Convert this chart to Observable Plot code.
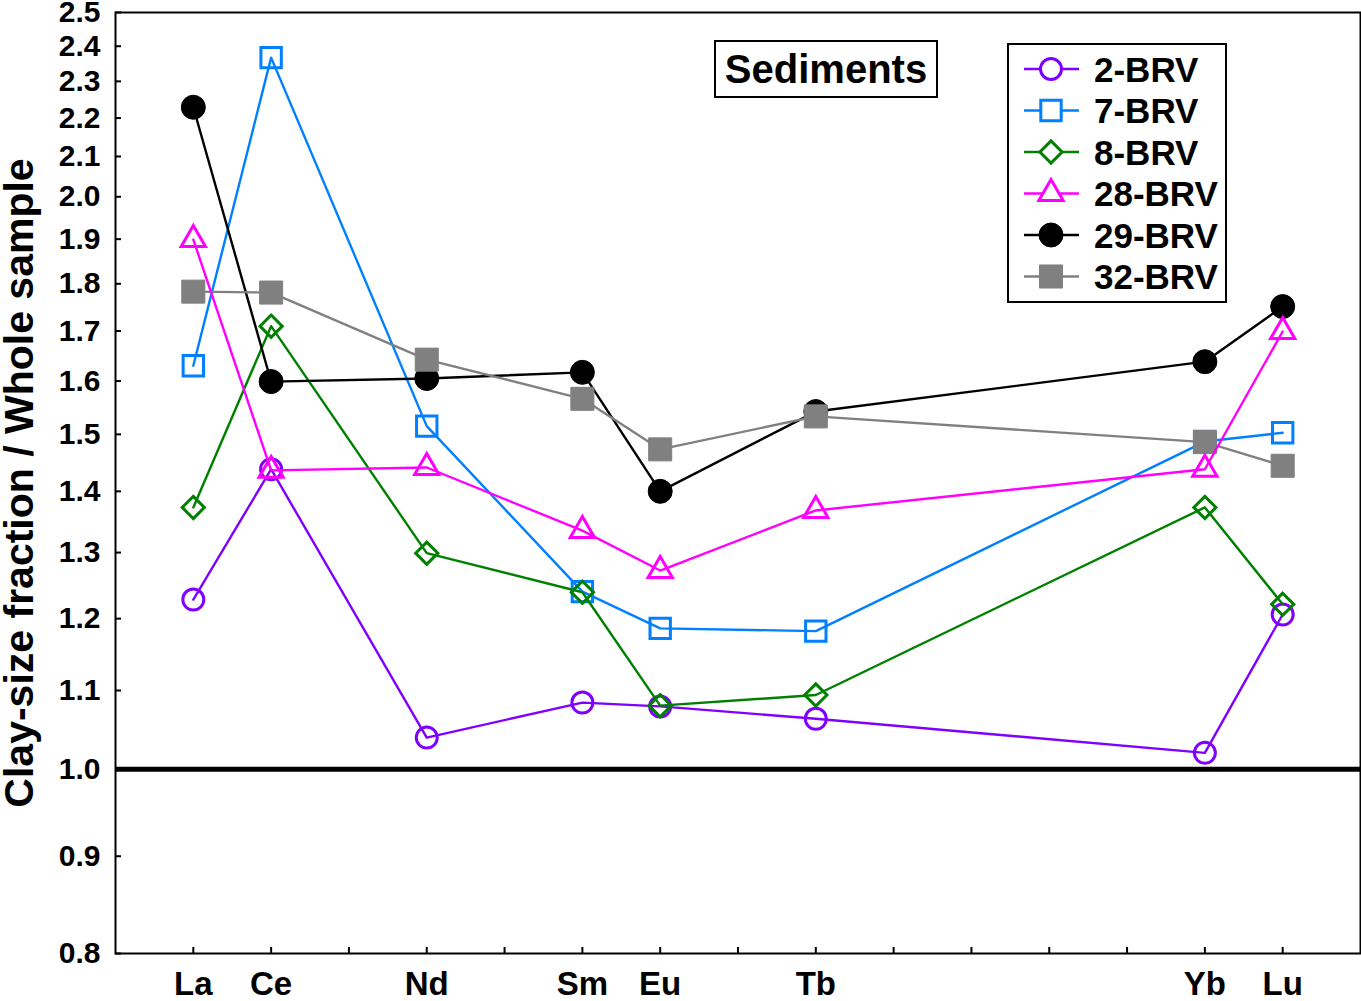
<!DOCTYPE html>
<html><head><meta charset="utf-8">
<script src="https://cdn.jsdelivr.net/npm/d3@7"></script>
<script src="https://cdn.jsdelivr.net/npm/@observablehq/plot@0.6"></script>
<style>
body{margin:0;background:#fff;font-family:"Liberation Sans",Arial,sans-serif;}
#wrap{position:relative;width:1361px;height:1001px;overflow:hidden;}
#wrap svg.plot{position:absolute;left:0;top:0;}
.tag{position:absolute;left:714px;top:40px;width:224px;height:58px;box-sizing:border-box;border:2px solid #000;background:#fff;
  font:bold 40px "Liberation Sans",Arial,sans-serif;display:flex;align-items:center;justify-content:center;color:#000;}
.legend{position:absolute;left:1007px;top:43px;}
</style></head><body><div id="wrap"></div>
<script>
// ---- data ----
const elements = ["La","Ce","Nd","Sm","Eu","Tb","Yb","Lu"];
const atomicNumbers = [57,58,60,62,63,65,70,71];
const brv2  = [1.228,1.438,1.039,1.084,1.079,1.063,1.020,1.206];
const brv7  = [1.630,2.367,1.515,1.240,1.186,1.182,1.487,1.503];
const brv8  = [1.373,1.710,1.299,1.239,1.080,1.094,1.373,1.221];
const brv28 = [1.899,1.436,1.441,1.335,1.272,1.368,1.438,1.699];
const brv29 = [2.229,1.599,1.605,1.617,1.400,1.542,1.638,1.751];
const brv32 = [1.783,1.781,1.642,1.566,1.473,1.533,1.486,1.444];
const seriesNames = ["2-BRV","7-BRV","8-BRV","28-BRV","29-BRV","32-BRV"];
const seriesValues = [brv2,brv7,brv8,brv28,brv29,brv32];
const seriesColors = ["#8000ff","#0080ff","#008000","#ff00ff","#000000","#808080"];
const seriesSymbols = ["circle","square","diamond2","triangle","circle","square"];
const seriesFilled = [false,false,false,false,true,true];
const seriesRadius = [10.5,11.5,10,9,12,13];
const drawOrder = [0,1,2,4,5,3];
const yTicks = [0.8,0.9,1.0,1.1,1.2,1.3,1.4,1.5,1.6,1.7,1.8,1.9,2.0,2.1,2.2,2.3,2.4,2.5];
const xMinorTicks = d3.range(57,72);
const yTitle = "Clay-size fraction / Whole sample";
const panelLabel = "Sediments";
const referenceLevel = 1.0;

// ---- build ----
const rows = seriesNames.map((name,i)=>atomicNumbers.map((z,j)=>({series:name, z, el:elements[j], v:seriesValues[i][j]})));
const symbolMap = {circle:d3.symbolCircle, square:d3.symbolSquare, diamond2:d3.symbolDiamond2, triangle:d3.symbolTriangle};

const W = 1361, H = 1001, ML = 115, MR = 1, MT = 12, MB = 48;
const marks = [
  Plot.ruleY([referenceLevel], {stroke:"#000", strokeWidth:5}),
  Plot.tickX(xMinorTicks, {x:d=>d, stroke:"#000", strokeWidth:2, insetTop:(H-MT-MB)-6}),
  Plot.tickY(yTicks, {y:d=>d, stroke:"#000", strokeWidth:2, insetRight:(W-ML-MR)-6}),
];
for (const i of drawOrder) {
  marks.push(Plot.line(rows[i], {x:"z", y:"v", stroke:seriesColors[i], strokeWidth:2.4}));
  marks.push(Plot.dot(rows[i], {x:"z", y:"v", symbol:()=>seriesSymbols[i], r:seriesRadius[i],
    stroke:seriesColors[i], strokeWidth: seriesFilled[i] ? 1 : 3,
    fill: seriesFilled[i] ? seriesColors[i] : "none"}));
}
marks.push(
  Plot.axisX({ticks:atomicNumbers, tickFormat:d=>elements[atomicNumbers.indexOf(d)], tickSize:0, tickPadding:18, fontSize:33, fontWeight:"bold", label:null}),
  Plot.axisY({ticks:yTicks, tickFormat:d3.format(".1f"), tickSize:0, tickPadding:15, fontSize:30, fontWeight:"bold", label:null}),
  Plot.text([yTitle], {frameAnchor:"left", textAnchor:"middle", rotate:-90, dx:-96, fontSize:41, fontWeight:"bold", fill:"#000"}),
  Plot.frame({stroke:"#000", strokeWidth:2})
);

const chart = Plot.plot({
  width:W, height:H, marginLeft:ML, marginRight:MR, marginTop:MT, marginBottom:MB,
  x:{domain:[56,72]},
  y:{type:"log", domain:[0.8,2.5]},
  symbol:{type:"identity"},
  style:{fontFamily:'"Liberation Sans", Arial, sans-serif', color:"#000", background:"#fff", overflow:"visible"},
  marks
});
chart.classList.add("plot");
const wrap = d3.select("#wrap");
wrap.node().appendChild(chart);

wrap.append("div").attr("class","tag").text(panelLabel);

const LW = 220, LH = 260;
const leg = wrap.append("svg").attr("class","legend").attr("width",LW).attr("height",LH)
  .style("font-family",'"Liberation Sans", Arial, sans-serif');
leg.append("rect").attr("x",1).attr("y",1).attr("width",LW-2).attr("height",LH-2).attr("fill","#fff").attr("stroke","#000").attr("stroke-width",2);
seriesNames.forEach((name,i)=>{
  const g = leg.append("g").attr("transform",`translate(0,${26+i*41.5})`);
  g.append("line").attr("x1",17).attr("x2",72).attr("stroke",seriesColors[i]).attr("stroke-width",2.4);
  g.append("path").attr("transform","translate(44,0)")
    .attr("d", d3.symbol(symbolMap[seriesSymbols[i]], Math.PI*seriesRadius[i]*seriesRadius[i])())
    .attr("fill", seriesFilled[i] ? seriesColors[i] : "#fff")
    .attr("stroke", seriesColors[i]).attr("stroke-width", seriesFilled[i] ? 1 : 3);
  g.append("text").attr("x",87).attr("dy","0.36em").attr("font-size",35).attr("font-weight","bold").text(name);
});
</script></body></html>
